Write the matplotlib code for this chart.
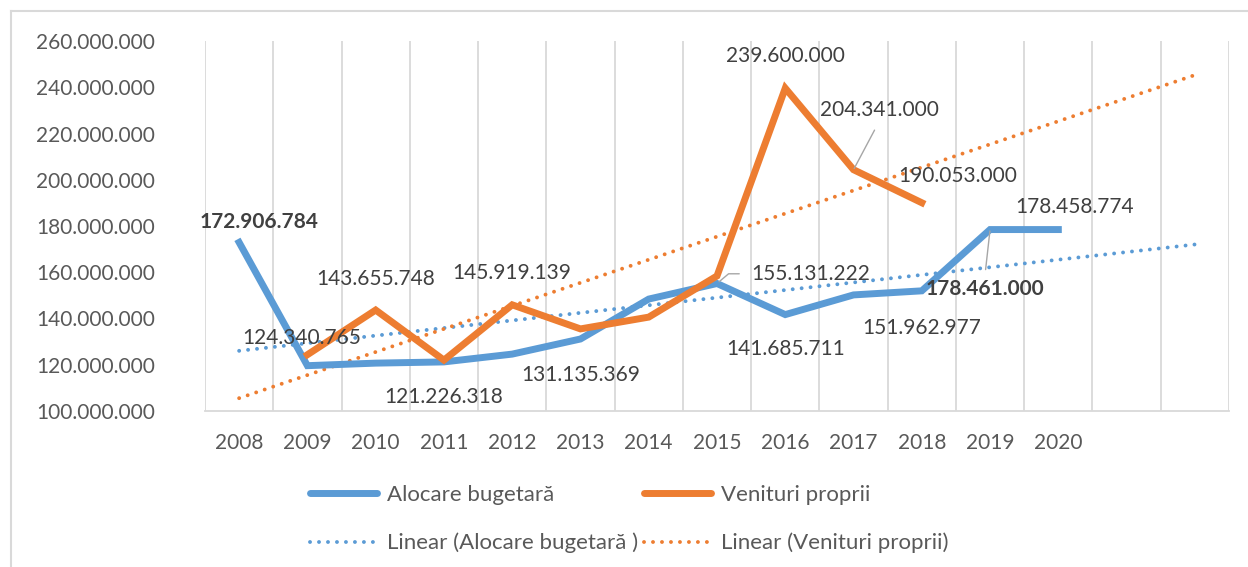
import numpy as np
import matplotlib
matplotlib.use("Agg")
import matplotlib.pyplot as plt
from matplotlib.lines import Line2D

plt.rcParams['font.family'] = ['Lato', 'DejaVu Sans']

# yearly values (lei)
years = ['2008', '2009', '2010', '2011', '2012', '2013', '2014',
         '2015', '2016', '2017', '2018', '2019', '2020']
alocare = [172906784, 119600000, 120700000, 121226318, 124600000, 131135369,
           148400000, 155131222, 141685711, 150200000, 151962977, 178461000,
           178458774]
venituri = [np.nan, 124340765, 143655748, 122000000, 145919139, 135500000,
            140600000, 158400000, 239600000, 204341000, 190053000, np.nan,
            np.nan]
n_forward = 2  # trendline forecast periods

BLUE = '#5B9BD5'
ORANGE = '#ED7D31'
GRID = '#D9D9D9'
TXT = '#404040'
TICK = '#595959'
LEADER = '#A6A6A6'

fig = plt.figure(figsize=(12.48, 5.67), dpi=100)
ax = fig.add_axes([205 / 1248, 1 - 411 / 567, 1024 / 1248, 370 / 567])

x = np.arange(len(years))
a = np.array(alocare, dtype=float)
v = np.array(venituri, dtype=float)

# linear trends, extended forward like the spreadsheet trendline
xt = np.arange(len(years) + n_forward)
trend_lines = []
for ser in (a, v):
    ok = ~np.isnan(ser)
    k, b = np.polyfit(x[ok], ser[ok], 1)
    trend_lines.append(k * xt + b)

dot = dict(linestyle=(0, (0.01, 2.3)), lw=2.8, dash_capstyle='round')
ax.plot(xt, trend_lines[0], color=BLUE, zorder=3, **dot)
ax.plot(xt, trend_lines[1], color=ORANGE, zorder=3, **dot)
ax.plot(x, a, color=BLUE, lw=5, solid_joinstyle='miter', zorder=4)
ax.plot(x, v, color=ORANGE, lw=5, solid_joinstyle='miter', zorder=5)

ax.set_xlim(-0.5, len(xt) - 0.5)
ax.set_ylim(100e6, 260e6)
ax.set_yticks(np.arange(100e6, 260e6 + 1, 20e6))
ax.set_yticklabels([f"{t:,.0f}".replace(',', '.') for t in ax.get_yticks()])
ax.set_xticks(x)
ax.set_xticklabels(years)
ax.tick_params(axis='y', length=0, pad=36, labelsize=15, labelcolor=TICK)
ax.tick_params(axis='x', length=0, pad=16, labelsize=15, labelcolor=TICK)

# vertical grid at category borders
for gx in np.arange(-0.5, len(xt), 1.0):
    ax.axvline(gx, color=GRID, lw=1.3, zorder=1)
for s in ('top', 'right', 'left'):
    ax.spines[s].set_visible(False)
ax.spines['bottom'].set_color(GRID)
ax.spines['bottom'].set_linewidth(1.3)


def fmt(val):
    return f"{val:,.0f}".replace(',', '.')


# (series, index, dx, dy) offsets in points
labels = [
    (a, 0, 14, 15, True),
    (v, 1, -4, 12, False),
    (v, 2, 0, 22, False),
    (a, 3, 0, -25, False),
    (v, 4, 0, 23, False),
    (a, 5, 0, -26, False),
    (a, 8, 0, -25, False),
    (v, 8, 0, 23, False),
    (v, 10, 26, 19, False),
    (a, 10, 0, -27, False),
    (a, 12, 12, 16, False),
]
for ser, i, dx, dy, bold in labels:
    ax.annotate(fmt(ser[i]), (x[i], ser[i]), xytext=(dx, dy),
                textcoords='offset points', ha='center', va='center',
                fontsize=15, color=TXT, fontweight='bold' if bold else 'normal',
                zorder=6)

# labels moved away from their points, with leader lines
ax.annotate(fmt(a[7]), (x[7], a[7]), xytext=(25, 7), textcoords='offset points',
            ha='left', va='center', fontsize=15, color=TXT, zorder=6,
            arrowprops=dict(arrowstyle='-', color=LEADER, lw=1,
                            shrinkA=7, shrinkB=2, relpos=(0, 0.5),
                            connectionstyle='angle,angleA=0,angleB=40'))
ax.annotate(fmt(v[9]), (x[9], v[9]), xytext=(19, 43), textcoords='offset points',
            ha='center', va='center', fontsize=15, color=TXT, zorder=6,
            arrowprops=dict(arrowstyle='-', color=LEADER, lw=1,
                            shrinkA=6, shrinkB=1, relpos=(0.5, 0.0)))
ax.annotate(fmt(a[11]), (x[11], a[11]), xytext=(-4, -43), textcoords='offset points',
            ha='center', va='center', fontsize=15, color=TXT, fontweight='bold',
            zorder=6,
            arrowprops=dict(arrowstyle='-', color=LEADER, lw=1,
                            shrinkA=5, shrinkB=1, relpos=(0.5, 1.0)))

handles = [
    Line2D([], [], color=BLUE, lw=5, solid_capstyle='round'),
    Line2D([], [], color=BLUE, **dot),
    Line2D([], [], color=ORANGE, lw=5, solid_capstyle='round'),
    Line2D([], [], color=ORANGE, **dot),
]
names = ['Alocare bugetară', 'Linear (Alocare bugetară )',
         'Venituri proprii', 'Linear (Venituri proprii)']
leg = fig.legend(handles, names, ncol=2, loc='upper left',
                 bbox_to_anchor=(310 / 1248, 1 - 485 / 567),
                 frameon=False, fontsize=16, handlelength=3.0,
                 handletextpad=0.45, columnspacing=0.3, labelspacing=1.25,
                 borderpad=0, borderaxespad=0)
for t in leg.get_texts():
    t.set_color(TICK)

# chart frame (left and top edges)
fig.add_artist(Line2D([11 / 1248, 11 / 1248], [0, 1 - 11 / 567],
                      transform=fig.transFigure, color=GRID, lw=1.5))
fig.add_artist(Line2D([11 / 1248, 1], [1 - 11 / 567, 1 - 11 / 567],
                      transform=fig.transFigure, color=GRID, lw=1.5))

fig.savefig('out.png', dpi=100)
